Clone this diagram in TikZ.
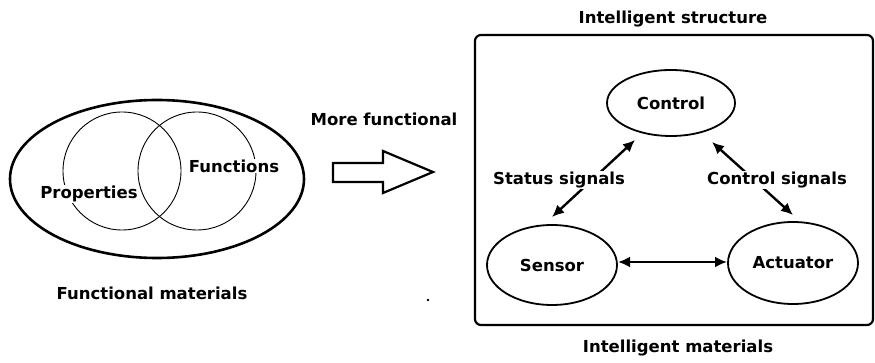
\documentclass[tikz,border=0pt]{standalone}
\usepackage{fontspec}
\setmainfont{DejaVu Sans}
\usetikzlibrary{arrows.meta,shapes.geometric}
\begin{document}
\begin{tikzpicture}[x=1pt,y=-1pt,
  lbl/.style={font=\bfseries\fontsize{16.5}{19}\selectfont, inner sep=1pt},
  arr/.style={line width=2.4pt, {Latex[length=12pt,width=11pt]}-{Latex[length=12pt,width=11pt]}}
]
\useasboundingbox (0,0) rectangle (875,363);
% left part
\draw[line width=2.6pt] (157,179) ellipse [x radius=147, y radius=79];
\draw[line width=0.9pt] (122,171) circle [radius=59];
\draw[line width=0.9pt] (197,171) circle [radius=59];
\node[lbl, fill=white] (prop) at (89,194) {Properties};
\node[lbl, fill=white] (func) at (234,166) {Functions};
\node[lbl] (fm) at (152,293) {Functional materials};
\node[lbl] (mf) at (384,119) {More functional};
\draw[line width=2.2pt, line join=miter] (333,163) -- (383,163) -- (383,151) -- (433,172) -- (383,193) -- (383,182) -- (333,182) -- cycle;
% right part
\draw[line width=2.2pt, rounded corners=6pt] (475,35) rectangle (873,325);
\node[lbl] (is) at (673,19) {Intelligent structure};
\node[lbl] (im) at (678,348) {Intelligent materials};
\draw[line width=1.8pt] (671,103) ellipse [x radius=64, y radius=33];
\draw[line width=1.8pt] (552,265) ellipse [x radius=65, y radius=40];
\draw[line width=1.8pt] (793,263) ellipse [x radius=65, y radius=41];
\node[lbl] (ctl) at (671,103) {Control};
\node[lbl] (sen) at (552,265) {Sensor};
\node[lbl] (act) at (793,263) {Actuator};
\coordinate (s1) at (552,217);
\coordinate (s2) at (635,140);
\coordinate (c1) at (712,142);
\coordinate (c2) at (793,215);
\coordinate (h1) at (618,262);
\coordinate (h2) at (727,262);
\draw[arr] (s1) -- (s2);
\draw[arr] (c1) -- (c2);
\draw[arr] (h1) -- (h2);
\node[lbl, fill=white] (ss) at (559,180) {Status signals};
\node[lbl, fill=white] (cs) at (777,180) {Control signals};
\fill (428,300) circle [radius=1.3pt];
\end{tikzpicture}
\end{document}
